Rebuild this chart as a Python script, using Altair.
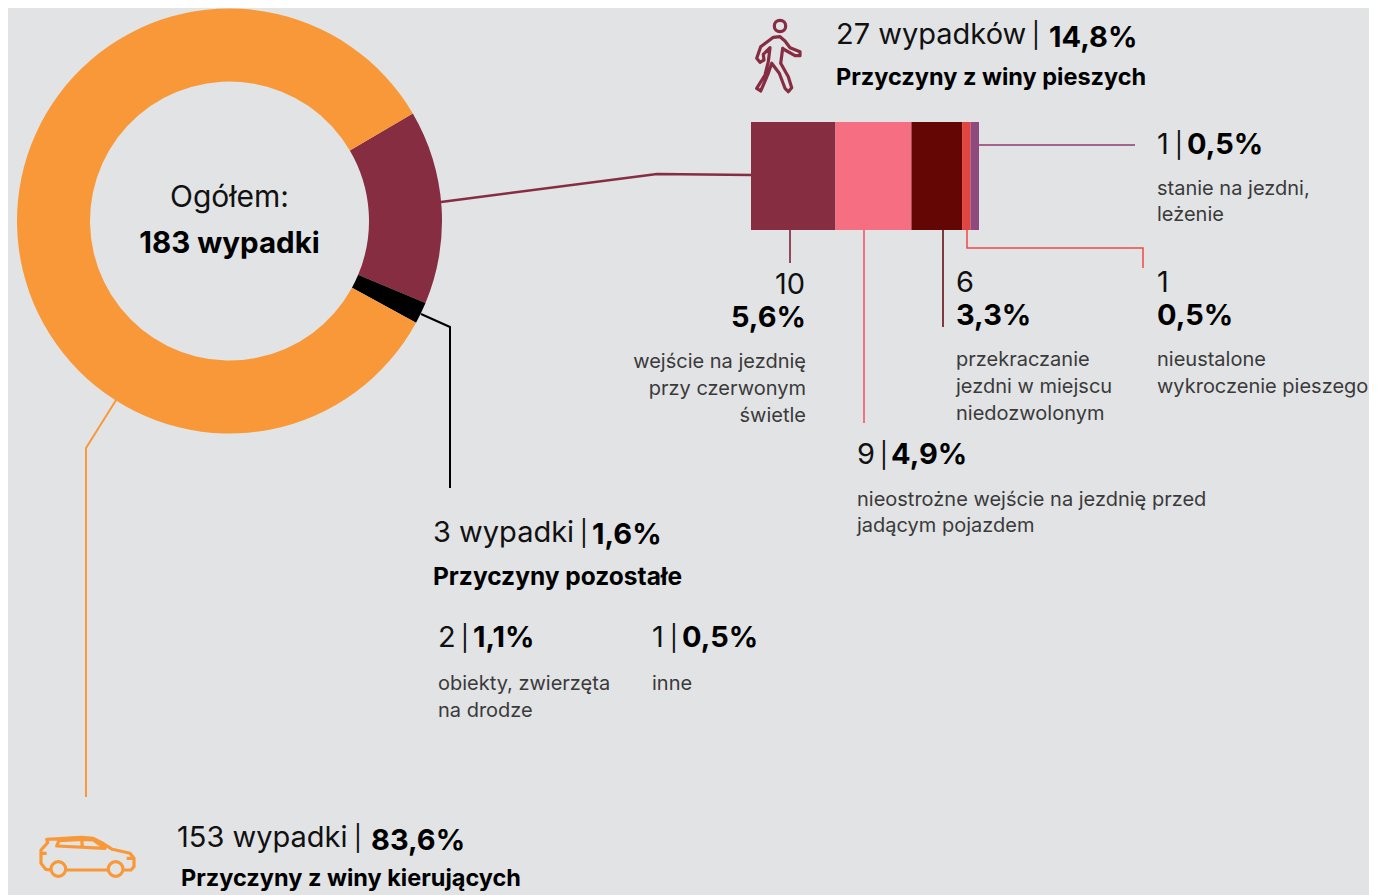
import math
import altair as alt
import pandas as pd

# ---- data
donut_labels = ["piesi", "pozostałe", "kierujący"]
donut_values = [27, 3, 153]
donut_colors = ["#862D42", "#000000", "#F99838"]

bar_labels = ["czerwone", "nieostrożne", "niedozwolone", "nieustalone", "leżenie"]
bar_values = [10, 9, 6, 1, 1]
bar_colors = ["#862D42", "#F56E82", "#640604", "#E04540", "#8E4A7E"]

W, H = 1361, 887
FONT = "Inter"
DARK = "#111111"
GREY = "#3A3A3A"

X = alt.Scale(domain=[8, 8 + W], range=[0, W])
Y = alt.Scale(domain=[8, 8 + H], range=[0, H])
xe = lambda f="x": alt.X(f"{f}:Q", scale=X, axis=None)
ye = lambda f="y": alt.Y(f"{f}:Q", scale=Y, axis=None)

# ---- donut
start = math.radians(59.6)
donut = alt.Chart(pd.DataFrame({
    "label": donut_labels, "value": donut_values, "color": donut_colors,
    "idx": range(3), "x": 229.5, "y": 221})).mark_arc(innerRadius=139.5, outerRadius=212.5).encode(
    x=xe(), y=ye(),
    theta=alt.Theta("value:Q", stack=True, scale=alt.Scale(domain=[0, 183], range=[start, start + 2 * math.pi])),
    color=alt.Color("color:N", scale=None),
    order=alt.Order("idx:Q"),
)

# ---- stacked bar
bar_df = pd.DataFrame({"label": bar_labels, "value": bar_values, "color": bar_colors})
bar_df["end"] = bar_df["value"].cumsum()
bar_df["start"] = bar_df["end"] - bar_df["value"]
bar = alt.Chart(bar_df).mark_rect().encode(
    x=alt.X("start:Q", axis=None, scale=alt.Scale(domain=[0, 27], range=[751 - 8, 979 - 8])),
    x2="end:Q",
    y=alt.value(122 - 8), y2=alt.value(230 - 8),
    color=alt.Color("color:N", scale=None),
)

# ---- leader lines
leaders = [
    ("#862D42", 2.5, [(441, 202), (657, 174), (752, 175)]),
    ("#000000", 2, [(421, 314), (450, 327), (450, 488)]),
    ("#F99838", 2, [(118, 397), (86, 448), (86, 797)]),
    ("#A5648F", 2, [(979, 145), (1135, 145)]),
    ("#8F4A5C", 2, [(790, 230), (790, 263)]),
    ("#F56E82", 2, [(864, 230), (864, 423)]),
    ("#7E3A3E", 2, [(943, 230), (943, 327)]),
    ("#EE4B45", 1.5, [(967, 230), (967, 248), (1143, 248), (1143, 268)]),
]
line_layers = []
for col, w, pts in leaders:
    df = pd.DataFrame({"x": [p[0] for p in pts], "y": [p[1] for p in pts], "i": range(len(pts))})
    line_layers.append(alt.Chart(df).mark_line(color=col, strokeWidth=w, strokeJoin="miter").encode(
        x=xe(), y=ye(), order=alt.Order("i:Q")))

# ---- icons
def path(groups, ox, oy, cx, cy):
    out = []
    for g in groups:
        if g[0] == "c":
            x, y, r = (g[1] / 3 + ox - cx, g[2] / 3 + oy - cy, g[3] / 3)
            out.append(f"M{x-r:.1f},{y:.1f}A{r:.1f},{r:.1f} 0 1,1 {x+r:.1f},{y:.1f}A{r:.1f},{r:.1f} 0 1,1 {x-r:.1f},{y:.1f}Z")
        else:
            pts = [(p[0] / 3 + ox - cx, p[1] / 3 + oy - cy) for p in g[1]]
            out.append("M" + "L".join(f"{a:.1f},{b:.1f}" for a, b in pts) + ("Z" if g[0] == "z" else ""))
    return "".join(out)

walker = path([
    ("c", 120, 63, 17),
    ("z", [(100, 97), (120, 95), (135, 108), (150, 128), (180, 140), (180, 152), (165, 152), (135, 135), (128, 130),
           (122, 175), (145, 215), (155, 248), (145, 260), (135, 250), (118, 205), (95, 175), (85, 205), (62, 258),
           (50, 250), (75, 210), (85, 170), (90, 128), (70, 148), (72, 165), (60, 172), (50, 160), (62, 125)]),
], 740, 5, 780, 55)
car = path([
    ("c", 100, 147, 22), ("c", 272, 147, 22),
    ("o", [(295, 150), (318, 150), (327, 140), (327, 115), (315, 100), (262, 88), (230, 68), (205, 55), (170, 52),
           (65, 58), (68, 68), (48, 90), (48, 130), (62, 148), (78, 150)]),
    ("o", [(125, 150), (250, 150)]),
    ("z", [(102, 62), (170, 58), (205, 60), (240, 85), (95, 78)]),
    ("o", [(170, 58), (172, 80)]),
    ("o", [(48, 100), (65, 100)]),
    ("o", [(305, 115), (325, 115)]),
], 25, 820, 87, 860)

icons = []
for shape, col, cx, cy in [(walker, "#862D42", 780, 55), (car, "#F99838", 87, 860)]:
    icons.append(alt.Chart(pd.DataFrame({"x": [cx], "y": [cy]})).mark_point(
        shape=shape, size=4, filled=False, stroke=col, strokeWidth=3.2, strokeJoin="round", opacity=1).encode(x=xe(), y=ye()))

# ---- texts: (text, x, baseline y, align, style)
styles = {
    "big": dict(fontSize=29, fontWeight=400, color=DARK),
    "center": dict(fontSize=30, fontWeight=400, color=DARK),
    "total": dict(fontSize=29.5, fontWeight=700, color="#000000"),
    "sep": dict(fontSize=25, fontWeight=400, color=DARK),
    "num": dict(fontSize=29, fontWeight=700, color="#000000"),
    "head": dict(fontSize=23.5, fontWeight=700, color="#000000"),
    "head2": dict(fontSize=24.5, fontWeight=700, color="#000000"),
    "note": dict(fontSize=20, fontWeight=400, color=GREY),
}
texts = [
    ("27 wypadków", 836, 44, "left", "big"), ("|", 1036, 44, "center", "sep"), ("14,8%", 1049, 47, "left", "num"),
    ("Przyczyny z winy pieszych", 836, 85, "left", "head"),
    ("1", 1157, 154, "left", "big"), ("|", 1179, 154, "center", "sep"), ("0,5%", 1187, 154, "left", "num"),
    ("stanie na jezdni,", 1157, 195, "left", "note"), ("leżenie", 1157, 221, "left", "note"),
    ("10", 805, 294, "right", "big"), ("5,6%", 806, 327, "right", "num"),
    ("wejście na jezdnię", 806, 368, "right", "note"), ("przy czerwonym", 806, 395, "right", "note"),
    ("świetle", 806, 422, "right", "note"),
    ("6", 956, 292, "left", "big"), ("3,3%", 956, 325, "left", "num"),
    ("przekraczanie", 956, 366, "left", "note"), ("jezdni w miejscu", 956, 393, "left", "note"),
    ("niedozwolonym", 956, 420, "left", "note"),
    ("1", 1157, 292, "left", "big"), ("0,5%", 1157, 325, "left", "num"),
    ("nieustalone", 1157, 366, "left", "note"), ("wykroczenie pieszego", 1157, 393, "left", "note"),
    ("9", 857, 464, "left", "big"), ("|", 884, 464, "center", "sep"), ("4,9%", 891, 464, "left", "num"),
    ("nieostrożne wejście na jezdnię przed", 857, 506, "left", "note"),
    ("jadącym pojazdem", 857, 532, "left", "note"),
    ("3 wypadki", 433, 542, "left", "big"), ("|", 584, 542, "center", "sep"), ("1,6%", 592, 544, "left", "num"),
    ("Przyczyny pozostałe", 433, 585, "left", "head2"),
    ("2", 438, 647, "left", "big"), ("|", 465, 647, "center", "sep"), ("1,1%", 473, 647, "left", "num"),
    ("obiekty, zwierzęta", 438, 690, "left", "note"), ("na drodze", 438, 717, "left", "note"),
    ("1", 652, 647, "left", "big"), ("|", 674, 647, "center", "sep"), ("0,5%", 682, 647, "left", "num"),
    ("inne", 652, 690, "left", "note"),
    ("153 wypadki", 177, 847, "left", "big"), ("|", 358, 847, "center", "sep"), ("83,6%", 371, 850, "left", "num"),
    ("Przyczyny z winy kierujących", 181, 886, "left", "head"),
    ("Ogółem:", 229.5, 207, "center", "center"), ("183 wypadki", 229.5, 253, "center", "total"),
]
text_layers = []
for name, st in styles.items():
    for al in ["left", "right", "center"]:
        rows = [t for t in texts if t[4] == name and t[3] == al]
        if not rows:
            continue
        df = pd.DataFrame({"t": [r[0] for r in rows], "x": [r[1] for r in rows], "y": [r[2] for r in rows]})
        text_layers.append(alt.Chart(df).mark_text(
            font=FONT, align=al, baseline="alphabetic", **st).encode(x=xe(), y=ye(), text="t:N"))

chart = alt.layer(donut, bar, *line_layers, *icons, *text_layers).resolve_scale(
    x="independent", theta="independent", color="independent"
).properties(
    width=W, height=H, background="#E1E3E5", padding=0, autosize=alt.AutoSizeParams(type="none")
).configure_view(stroke=None)

chart.save("out.html", embed_options={"renderer": "svg", "actions": False})
